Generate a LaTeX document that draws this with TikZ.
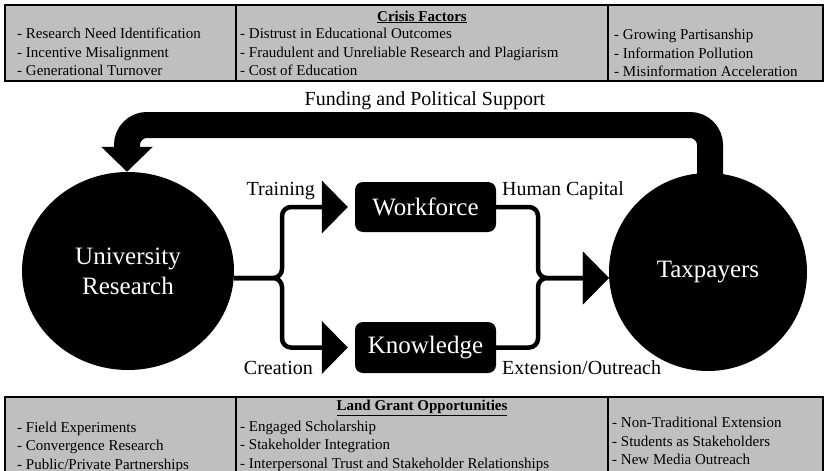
\documentclass[tikz,border=0pt]{standalone}
\usepackage{fontspec}
\setmainfont{Liberation Serif}
\usetikzlibrary{calc}
\usetikzlibrary{arrows.meta}
\usetikzlibrary{shapes.geometric}
\newcommand\bigtext[0]{\fontsize{25}{30}\selectfont}
\newcommand\midtext[0]{\fontsize{20}{24}\selectfont}
\newcommand\tabtext[0]{\fontsize{15}{18.5}\selectfont}
\definecolor{tablegray}{HTML}{BFBFBF}

\tikzset{
  hub/.style={ellipse, fill=black, text=white, font=\bigtext, align=center, inner sep=0pt},
  block/.style={rectangle, rounded corners=8pt, fill=black, text=white, font=\bigtext, minimum width=141pt, minimum height=50pt},
  flow/.style={black, line width=4.5pt, rounded corners=9pt, -{Triangle[length=26pt,width=52pt]}},
  support/.style={black, line width=26pt, rounded corners=20pt, -{Triangle[length=25pt,width=50pt]}},
  tag/.style={font=\midtext, inner sep=0pt},
  cell/.style={font=\tabtext, align=left, anchor=west, inner sep=0pt},
  heading/.style={font=\tabtext\bfseries, inner sep=0pt},
  panel/.style={draw=black, line width=1.3pt, fill=tablegray},
  rule/.style={black, line width=1.3pt}
}

\begin{document}
\begin{tikzpicture}[x=1pt, y=-1pt]
\useasboundingbox (0,0) rectangle (827,471);

\draw[panel] (5,5) rectangle (823,81);
\draw[rule] (236,5) -- (236,81);
\draw[rule] (608,5) -- (608,81);
\node[heading] (crisis) at (422,17) {\underline{Crisis Factors}};
\node[cell] (crisisL) at (17,52) {- Research Need Identification\\- Incentive Misalignment\\- Generational Turnover};
\node[cell] (crisisM) at (240,52) {- Distrust in Educational Outcomes\\- Fraudulent and Unreliable Research and Plagiarism\\- Cost of Education};
\node[cell] (crisisR) at (614,53) {- Growing Partisanship\\- Information Pollution\\- Misinformation Acceleration};

\draw[panel] (5,397) rectangle (823,480);
\draw[rule] (236,397) -- (236,480);
\draw[rule] (608,397) -- (608,480);
\node[heading] (grant) at (422,408) {\underline{Land Grant Opportunities}};
\node[cell] (grantL) at (17,447) {- Field Experiments\\- Convergence Research\\- Public/Private Partnerships};
\node[cell] (grantM) at (240,446) {- Engaged Scholarship\\- Stakeholder Integration\\- Interpersonal Trust and Stakeholder Relationships};
\node[cell] (grantR) at (612,441) {- Non-Traditional Extension\\- Students as Stakeholders\\- New Media Outreach};

\node[hub, minimum width=212pt, minimum height=198pt] (ur) at (128,271) {University\\Research};
\node[hub, circle, minimum size=198pt] (tax) at (708,272) {Taxpayers};
\node[block] (wf) at (425.5,207) {Workforce};
\node[block, minimum height=51pt] (kn) at (425.5,347.5) {Knowledge};

\node[tag, anchor=east] (train) at (315,191) {Training};
\node[tag, anchor=east] (create) at (313,368) {Creation};
\node[tag, anchor=west] (human) at (502,191) {Human Capital};
\node[tag, anchor=west] (outreach) at (502,368) {Extension/Outreach};
\node[tag] (fund) at (425,101) {Funding and Political Support};

\coordinate (split) at (282,278);
\coordinate (merge) at (538,278);
\coordinate (fbR) at (710,125);
\coordinate (fbL) at (127,125);

\draw[flow, shorten >=7pt] (ur.east |- split) -- (split) -- (split |- wf) -- (wf.west);
\draw[flow, shorten >=7pt] (ur.east |- split) -- (split) -- (split |- kn) -- (kn.west);
\draw[flow] (wf.east) -- (wf.east -| merge) -- (merge) -- (tax.west |- merge);
\draw[flow] (kn.east) -- (kn.east -| merge) -- (merge) -- (tax.west |- merge);
\draw[support] ([xshift=2pt, yshift=-3pt]tax.north) -- (fbR) -- (fbL) -- (fbL |- ur.north);
\end{tikzpicture}
\end{document}
